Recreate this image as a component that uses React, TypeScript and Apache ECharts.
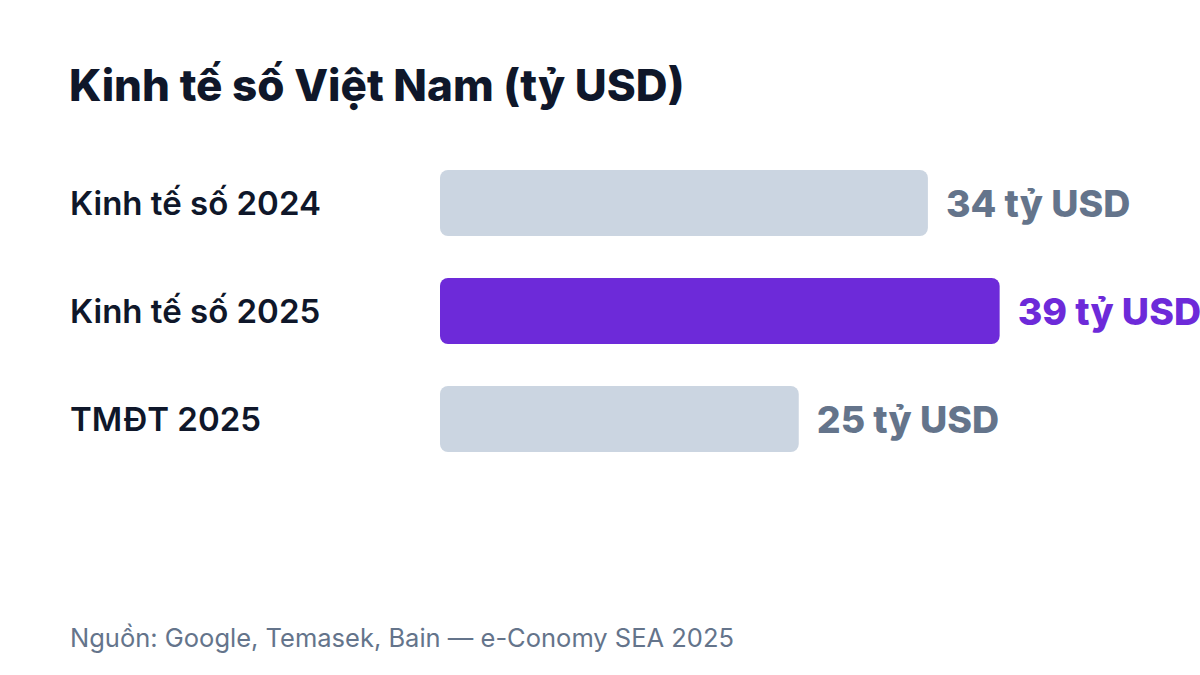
import React, { useEffect, useRef } from "react";
import * as echarts from "echarts";

// Chart data
const categories = ["Kinh tế số 2024", "Kinh tế số 2025", "TMĐT 2025"];
const values = [34, 39, 25];
const highlight = [false, true, false];

const titleText = "Kinh tế số Việt Nam (tỷ USD)";
const sourceText = "Nguồn: Google, Temasek, Bain — e-Conomy SEA 2025";

const FONT = "Inter, 'Noto Sans', sans-serif";
const DARK = "#0f172a";
const GRAY_BAR = "#cbd5e1";
const GRAY_TEXT = "#64748b";
const PURPLE = "#6d2ad9";

const App: React.FC = () => {
  const chartRef = useRef<HTMLDivElement>(null);

  useEffect(() => {
    const chart = echarts.init(chartRef.current!, undefined, { renderer: "svg" });

    const option: echarts.EChartsOption = {
      animation: false,
      backgroundColor: "#ffffff",
      textStyle: { fontFamily: FONT },
      title: {
        text: titleText,
        left: 64,
        top: 58,
        textStyle: {
          fontFamily: FONT,
          fontSize: 44,
          fontWeight: 800,
          color: DARK
        }
      },
      grid: {
        left: 440,
        top: 149,
        width: 717.5,
        height: 324
      },
      xAxis: {
        type: "value",
        min: 0,
        max: 50,
        show: false
      },
      yAxis: {
        type: "category",
        inverse: true,
        data: categories,
        axisLine: { show: false },
        axisTick: { show: false },
        axisLabel: {
          align: "left",
          margin: 370,
          fontFamily: FONT,
          fontSize: 33,
          fontWeight: 600,
          color: DARK
        }
      },
      series: [
        {
          type: "bar",
          barWidth: 66,
          data: values.map((v, i) => ({
            value: v,
            itemStyle: {
              color: highlight[i] ? PURPLE : GRAY_BAR,
              borderRadius: 8
            },
            label: {
              color: highlight[i] ? PURPLE : GRAY_TEXT
            }
          })),
          label: {
            show: true,
            position: "right",
            distance: 18,
            formatter: "{c} tỷ USD",
            fontFamily: FONT,
            fontSize: 37.5,
            fontWeight: 800
          }
        }
      ],
      graphic: [
        {
          type: "text",
          left: 70,
          top: 624,
          style: {
            text: sourceText,
            fontFamily: FONT,
            fontSize: 25.5,
            fontWeight: 400,
            fill: GRAY_TEXT
          }
        }
      ]
    };

    chart.setOption(option);

    const handleResize = () => chart.resize();
    window.addEventListener("resize", handleResize);

    return () => {
      chart.dispose();
      window.removeEventListener("resize", handleResize);
    };
  }, []);

  return (
    <div
      ref={chartRef}
      style={{ position: "fixed", left: 0, top: 0, width: "1200px", height: "675px" }}
    />
  );
};

export default App;
